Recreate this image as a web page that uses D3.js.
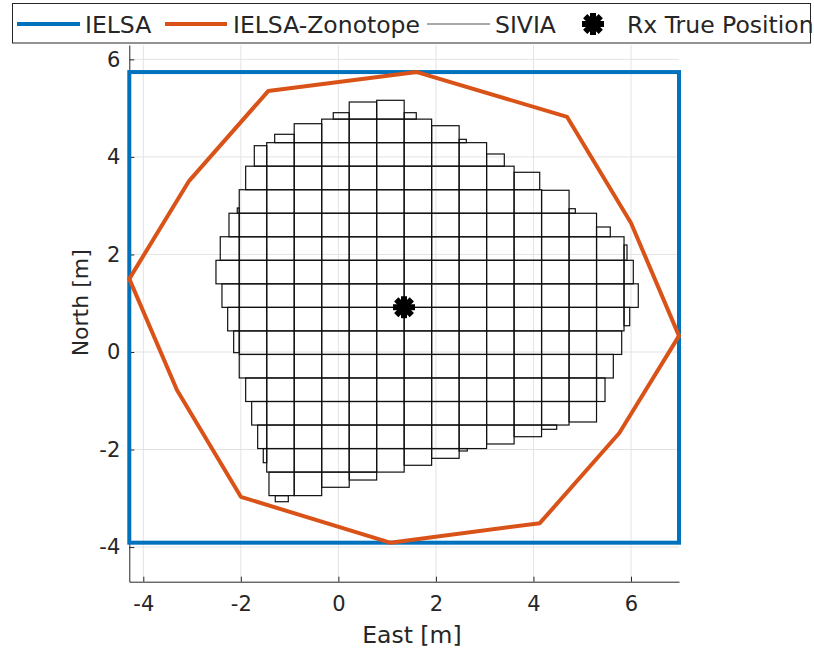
<!DOCTYPE html>
<html>
<head>
<meta charset="utf-8">
<script src="https://cdn.jsdelivr.net/npm/d3@7"></script>
<style>
  body { margin: 0; background: #fff; }
  text { font-family: "DejaVu Sans", sans-serif; fill: #262626; }
</style>
</head>
<body>
<div id="chart"></div>
<script>
// axis limits and ticks
var xLimits = [-4.287, 6.984],
    yLimits = [-4.71, 6.295];
var xTicks = [-4, -2, 0, 2, 4, 6],
    yTicks = [-4, -2, 0, 2, 4, 6];

// IELSA box: xmin, xmax, ymin, ymax
var ielsaBox = [-4.287, 6.984, -3.91, 5.74];

// IELSA-Zonotope vertices (closed polygon)
var zonoX = [1.61, 4.69, 6.00, 6.984, 5.76, 4.13, 1.06, -2.00, -3.31, -4.287, -3.06, -1.44];
var zonoY = [5.74, 4.82, 2.645, 0.33, -1.66, -3.51, -3.91, -2.97, -0.78, 1.50, 3.51, 5.35];

// SIVIA: IELSA box cut in a 20x20 grid
var siviaDiv = 20;
// rows of full cells: [row, first col, last col]
var siviaFullRows = [
  [17, 7, 10], [16, 5, 12], [15, 5, 13], [14, 4, 14], [13, 4, 16],
  [12, 4, 17], [11, 4, 17], [10, 4, 17], [9, 4, 17], [8, 4, 16],
  [7, 4, 16], [6, 5, 16], [5, 5, 15], [4, 5, 12], [3, 5, 9], [2, 6, 6]
];
// contracted boundary boxes: xmin, xmax, ymin, ymax
var siviaEdgeBoxes = [
  [-0.105, 0.222, 4.775, 4.907], [0.222, 0.785, 4.775, 5.126], [0.785, 1.349, 4.775, 5.161], [1.349, 1.597, 4.775, 4.907],
  [-1.306, -0.906, 4.293, 4.464], [-0.906, -0.342, 4.293, 4.681], [1.912, 2.476, 4.293, 4.640], [2.476, 2.623, 4.293, 4.361],
  [-1.724, -1.469, 3.810, 4.230], [3.039, 3.402, 3.810, 4.060],
  [-1.901, -1.469, 3.328, 3.810], [3.603, 4.128, 3.328, 3.685],
  [-2.073, -2.033, 2.845, 2.953], [4.166, 4.730, 2.845, 3.316], [4.730, 4.858, 2.845, 2.938],
  [-2.243, -2.033, 2.363, 2.845], [5.293, 5.575, 2.363, 2.563],
  [-2.422, -2.033, 1.880, 2.363], [5.857, 5.918, 1.880, 2.194],
  [-2.510, -2.033, 1.398, 1.880], [5.857, 6.047, 1.398, 1.880],
  [-2.387, -2.033, 0.915, 1.398], [5.857, 6.149, 0.915, 1.398],
  [-2.270, -2.033, 0.433, 0.915], [5.857, 5.973, 0.539, 0.915],
  [-2.147, -2.033, -0.014, 0.433], [5.293, 5.809, -0.050, 0.433],
  [5.293, 5.637, -0.533, -0.050],
  [-1.901, -1.469, -1.015, -0.533], [5.293, 5.467, -1.015, -0.533],
  [-1.778, -1.469, -1.498, -1.015], [4.730, 5.293, -1.435, -1.015],
  [-1.655, -1.469, -1.980, -1.498], [3.039, 3.603, -1.886, -1.498], [3.603, 4.166, -1.737, -1.498], [4.166, 4.476, -1.585, -1.498],
  [-1.540, -1.469, -2.270, -1.980], [1.349, 1.912, -2.323, -1.980], [1.912, 2.476, -2.180, -1.980], [2.476, 2.643, -2.030, -1.980],
  [-1.423, -0.906, -2.945, -2.463], [-0.342, 0.222, -2.774, -2.463], [0.222, 0.785, -2.625, -2.463],
  [-1.294, -1.027, -3.070, -2.945]
];

// Rx true position
var rxTrue = [1.346, 0.918];

var legendNames = ["IELSA", "IELSA-Zonotope", "SIVIA", "Rx True Position"];

var blue = "#0072BD", orange = "#D95319", axisColor = "#262626";

var margin = {top: 45, right: 135, bottom: 70.3, left: 129.3},
    width = 814 - margin.left - margin.right,
    height = 652 - margin.top - margin.bottom;

var svg = d3.select("#chart").append("svg")
    .attr("width", 814)
    .attr("height", 652);

svg.append("rect").attr("width", 814).attr("height", 652).attr("fill", "#fff");

var g = svg.append("g")
    .attr("transform", "translate(" + margin.left + "," + margin.top + ")");

var x = d3.scaleLinear().domain(xLimits).range([0, width]);
var y = d3.scaleLinear().domain(yLimits).range([height, 0]);

// grid
g.append("g").selectAll("line").data(xTicks).enter().append("line")
    .attr("x1", d => x(d)).attr("x2", d => x(d))
    .attr("y1", 0).attr("y2", height)
    .attr("stroke", "#e3e3e3").attr("stroke-width", 1);
g.append("g").selectAll("line").data(yTicks).enter().append("line")
    .attr("y1", d => y(d)).attr("y2", d => y(d))
    .attr("x1", 0).attr("x2", width)
    .attr("stroke", "#e3e3e3").attr("stroke-width", 1);

// axes
var fmt = d => String(d);
var xAxis = g.append("g")
    .attr("transform", "translate(0," + height + ")")
    .call(d3.axisBottom(x).tickValues(xTicks).tickFormat(fmt).tickSizeInner(-5).tickSizeOuter(0).tickPadding(14));
var yAxis = g.append("g")
    .call(d3.axisLeft(y).tickValues(yTicks).tickFormat(fmt).tickSizeInner(-5).tickSizeOuter(0).tickPadding(9));
[xAxis, yAxis].forEach(function(a) {
  a.select(".domain").attr("stroke", axisColor);
  a.selectAll(".tick line").attr("stroke", axisColor);
  a.selectAll(".tick text").attr("fill", axisColor)
    .style("font-family", "DejaVu Sans").style("font-size", "21px");
});

// axis labels, anchored at their start like the original
g.append("text")
    .attr("x", width / 2 - 42).attr("y", height + 61)
    .style("font-size", "23.5px")
    .text("East [m]");
g.append("text")
    .attr("transform", "translate(-41," + (height / 2 + 43) + ") rotate(-90)")
    .style("font-size", "22px")
    .text("North [m]");

// IELSA box
g.append("rect")
    .attr("x", x(ielsaBox[0])).attr("y", y(ielsaBox[3]))
    .attr("width", x(ielsaBox[1]) - x(ielsaBox[0]))
    .attr("height", y(ielsaBox[2]) - y(ielsaBox[3]))
    .attr("fill", "none").attr("stroke", blue).attr("stroke-width", 4);

// zonotope
var zono = zonoX.map((d, i) => [d, zonoY[i]]);
g.append("path")
    .datum(zono)
    .attr("d", d3.line().x(d => x(d[0])).y(d => y(d[1])).curve(d3.curveLinearClosed))
    .attr("fill", "none").attr("stroke", orange).attr("stroke-width", 4)
    .attr("stroke-linejoin", "round");

// SIVIA boxes
var ix = d3.scaleLinear().domain([0, siviaDiv]).range([ielsaBox[0], ielsaBox[1]]);
var iy = d3.scaleLinear().domain([0, siviaDiv]).range([ielsaBox[2], ielsaBox[3]]);
var boxes = [];
siviaFullRows.forEach(function(r) {
  for (var k = r[1]; k <= r[2]; k++) {
    boxes.push([ix(k), ix(k + 1), iy(r[0]), iy(r[0] + 1)]);
  }
});
boxes = boxes.concat(siviaEdgeBoxes);

g.append("g").selectAll("rect").data(boxes).enter().append("rect")
    .attr("x", d => x(d[0])).attr("y", d => y(d[3]))
    .attr("width", d => x(d[1]) - x(d[0]))
    .attr("height", d => y(d[2]) - y(d[3]))
    .attr("fill", "none").attr("stroke", "#111").attr("stroke-width", 1.2);

// asterisk marker
function asterisk(sel, cx, cy, r) {
  var a = sel.append("g").attr("transform", "translate(" + cx + "," + cy + ")");
  [0, 45, 90, 135].forEach(function(ang) {
    var t = ang * Math.PI / 180;
    a.append("line")
      .attr("x1", -r * Math.cos(t)).attr("y1", -r * Math.sin(t))
      .attr("x2", r * Math.cos(t)).attr("y2", r * Math.sin(t))
      .attr("stroke", "#000").attr("stroke-width", 6);
  });
  a.append("circle").attr("r", r * 0.6).attr("fill", "#000");
}
asterisk(g, x(rxTrue[0]), y(rxTrue[1]), 11);

// legend
var leg = svg.append("g");
leg.append("rect")
    .attr("x", 12.5).attr("y", 3.5).attr("width", 798).attr("height", 39.5)
    .attr("fill", "#fff").attr("stroke", axisColor).attr("stroke-width", 1);
var ly = 24;
var items = [
  {x0: 17, x1: 80, tx: 85, color: blue, w: 4},
  {x0: 165, x1: 227, tx: 233, color: orange, w: 4},
  {x0: 427, x1: 490, tx: 495, color: "#555", w: 1},
  {x0: null, tx: 627}
];
items.forEach(function(it, i) {
  if (it.x0 !== null) {
    leg.append("line").attr("x1", it.x0).attr("x2", it.x1).attr("y1", ly).attr("y2", ly)
      .attr("stroke", it.color).attr("stroke-width", it.w);
  } else {
    asterisk(leg, 593, ly, 11);
  }
  leg.append("text").attr("x", it.tx).attr("y", ly + 8.5)
    .style("font-size", "23.5px").text(legendNames[i]);
});
</script>
</body>
</html>
